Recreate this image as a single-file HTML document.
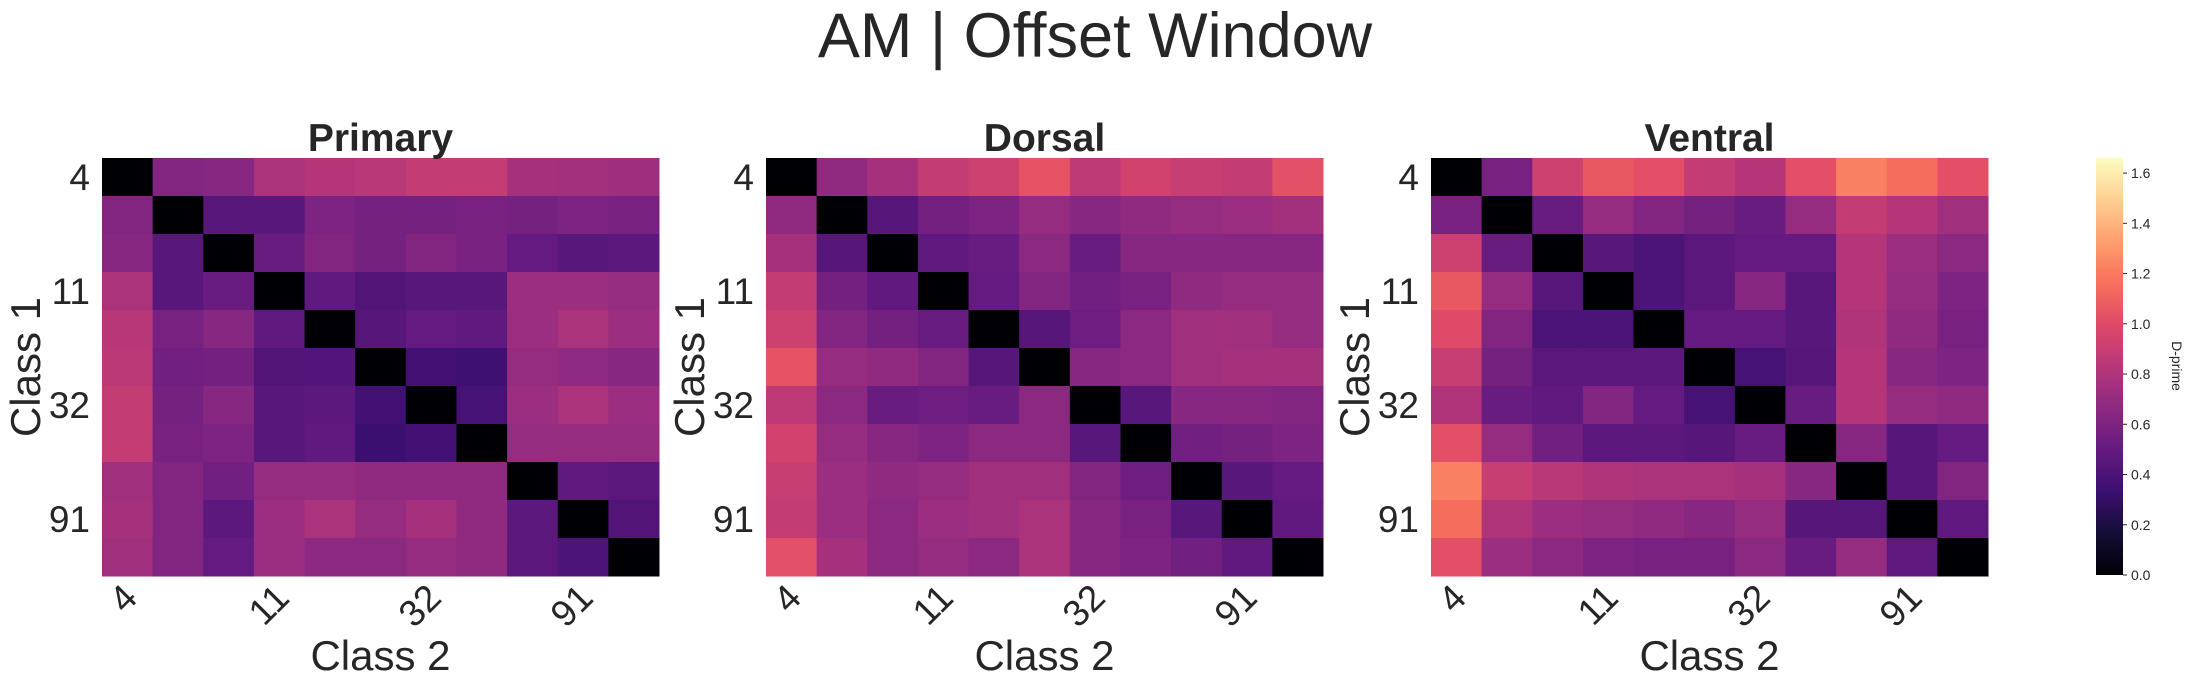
<!DOCTYPE html>
<html><head><meta charset="utf-8"><style>
html,body{margin:0;padding:0;background:#fff;}
svg{display:block;font-family:"Liberation Sans",sans-serif;}
</style></head><body>
<svg id="fig" width="2190" height="690" viewBox="0 0 2190 690" xmlns="http://www.w3.org/2000/svg">
<text x="1095" y="57" font-size="63" text-anchor="middle" fill="#262626">AM | Offset Window</text>
</svg>
<script>
const classLabels = ["4","","","11","","","32","","","91",""];
const cbTicks = [0,0.2,0.4,0.6,0.8,1.0,1.2,1.4,1.6];
const vmax = 1.66;
const panelNames = ["Primary","Dorsal","Ventral"];
const primaryVals = [
[0,.62,.64,.78,.82,.84,.88,.88,.76,.75,.73],
[.62,0,.45,.45,.6,.57,.57,.58,.57,.6,.58],
[.64,.45,0,.52,.62,.57,.62,.58,.5,.45,.47],
[.78,.45,.52,0,.48,.42,.45,.45,.72,.72,.7],
[.83,.58,.64,.48,0,.44,.5,.48,.72,.78,.72],
[.85,.55,.56,.42,.43,0,.36,.34,.7,.67,.64],
[.88,.57,.64,.45,.47,.36,0,.38,.72,.78,.72],
[.88,.58,.6,.45,.48,.33,.36,0,.7,.7,.7],
[.74,.62,.55,.7,.7,.68,.68,.68,0,.48,.46],
[.76,.62,.47,.72,.78,.7,.76,.68,.47,0,.42],
[.74,.62,.5,.72,.66,.66,.7,.68,.46,.4,0]];
const dorsalVals = [
[0,.68,.76,.88,.92,1.04,.86,.94,.9,.88,1.03],
[.68,0,.44,.56,.6,.7,.64,.68,.7,.72,.75],
[.76,.44,0,.48,.52,.66,.52,.64,.64,.64,.64],
[.88,.56,.48,0,.5,.62,.55,.58,.68,.7,.7],
[.92,.62,.56,.52,0,.44,.54,.66,.74,.74,.7],
[1.04,.7,.68,.62,.44,0,.64,.66,.74,.76,.76],
[.86,.66,.52,.54,.52,.66,0,.45,.64,.64,.62],
[.94,.7,.64,.6,.66,.66,.45,0,.55,.57,.6],
[.9,.72,.68,.7,.74,.74,.62,.54,0,.45,.5],
[.88,.72,.66,.72,.74,.78,.64,.58,.45,0,.48],
[1.03,.76,.66,.7,.66,.78,.64,.6,.55,.48,0]];
const ventralVals = [
[0,.58,.92,1.06,1.02,.88,.82,1.02,1.22,1.15,1.02],
[.58,0,.52,.7,.62,.57,.52,.7,.88,.82,.74],
[.92,.52,0,.45,.4,.46,.5,.5,.82,.72,.66],
[1.06,.7,.45,0,.4,.46,.64,.45,.82,.7,.6],
[1.0,.62,.4,.4,0,.5,.5,.45,.8,.68,.58],
[.9,.57,.46,.46,.47,0,.38,.44,.82,.64,.6],
[.8,.52,.48,.62,.5,.38,0,.52,.82,.7,.68],
[1.02,.7,.55,.47,.47,.44,.52,0,.64,.44,.5],
[1.22,.9,.84,.8,.78,.78,.76,.64,0,.44,.62],
[1.15,.8,.72,.7,.68,.64,.7,.44,.44,0,.48],
[1.02,.72,.66,.6,.58,.58,.66,.52,.7,.48,0]];
const panelVals = [primaryVals, dorsalVals, ventralVals];

const magma = ["#000004","#140e36","#3b0f70","#641a80","#8c2981","#b73779","#de4968","#f7705c","#fe9f6d","#fecf92","#fcfdbf"];
function hex(c){return [1,3,5].map(i=>parseInt(c.substr(i,2),16));}
function cmap(v){
  let t=Math.max(0,Math.min(1,v/vmax))*10; let i=Math.min(9,Math.floor(t)); let f=t-i;
  const a=hex(magma[i]), b=hex(magma[i+1]);
  return "rgb("+a.map((x,k)=>Math.round(x+(b[k]-x)*f)).join(",")+")";
}
const NS="http://www.w3.org/2000/svg";
const svgRoot=document.getElementById("fig");
function mk(tag,attrs,parent){const e=document.createElementNS(NS,tag);for(const k in attrs)e.setAttribute(k,attrs[k]);(parent||svgRoot).appendChild(e);return e;}
const panelLefts=[102,766,1431], panelTop=158, W=557, H=418, n=11;
panelNames.forEach((name,p)=>{
  const g=mk("g",{});
  
  
  const x0=panelLefts[p], cw=W/n, ch=H/n;
  const xs=j=>x0+j*cw, ys=i=>panelTop+i*ch;
  panelVals[p].forEach((row,i)=>row.forEach((v,j)=>{
    const r=mk("rect",{x:xs(j),y:ys(i),width:cw+0.5,height:ch+0.5,fill:cmap(v)},g);
    
    
  }));
  const t=mk("text",{x:x0+W/2,y:151,"font-size":39,"font-weight":"bold","text-anchor":"middle",fill:"#262626"});
  t.textContent=name;
  
  
  classLabels.forEach((lab,k)=>{
    if(!lab) return;
    const yl=mk("text",{x:x0-12,y:ys(k)+ch/2+13,"font-size":37,"text-anchor":"end",fill:"#262626"});
    yl.textContent=lab;
    
    
    const cx=xs(k)+cw/2+12, cy=600;
    const xl=mk("text",{x:cx,y:cy,"font-size":37,"text-anchor":"end",fill:"#262626",transform:"rotate(-45 "+cx+" "+cy+")"});
    xl.textContent=lab;
    
    
  });
  const xt=mk("text",{x:x0+W/2,y:670,"font-size":42,"text-anchor":"middle",fill:"#262626"});
  xt.textContent="Class 2";
  
  
  const yx=x0-62, yy=panelTop+H/2;
  const yt=mk("text",{x:yx,y:yy,"font-size":42,"text-anchor":"middle",fill:"#262626",transform:"rotate(-90 "+yx+" "+yy+")"});
  yt.textContent="Class 1";
  
  
});
const cbX=2096, cbW=27, cbTop=158, cbBot=575;
const cbY=v=>cbBot-(v/vmax)*(cbBot-cbTop);
const defs=mk("defs",{});
const grad=mk("linearGradient",{id:"cbg",x1:0,y1:1,x2:0,y2:0},defs);
magma.forEach((c,i)=>mk("stop",{offset:(i/10),"stop-color":c},grad));
const cb=mk("rect",{x:cbX,y:cbTop,width:cbW,height:cbBot-cbTop,fill:"url(#cbg)"});


cbTicks.forEach(v=>{
  const y=cbY(v);
  mk("line",{x1:cbX+cbW,x2:cbX+cbW+4,y1:y,y2:y,stroke:"#262626","stroke-width":1});
  const t=mk("text",{x:cbX+cbW+8,y:y+5,"font-size":14,fill:"#262626"});
  t.textContent=v.toFixed(1);
  
  
});
const cl=mk("text",{x:2172,y:366,"font-size":14,"text-anchor":"middle",fill:"#262626",transform:"rotate(90 2172 366)"});
cl.textContent="D-prime";


</script>
</body></html>
